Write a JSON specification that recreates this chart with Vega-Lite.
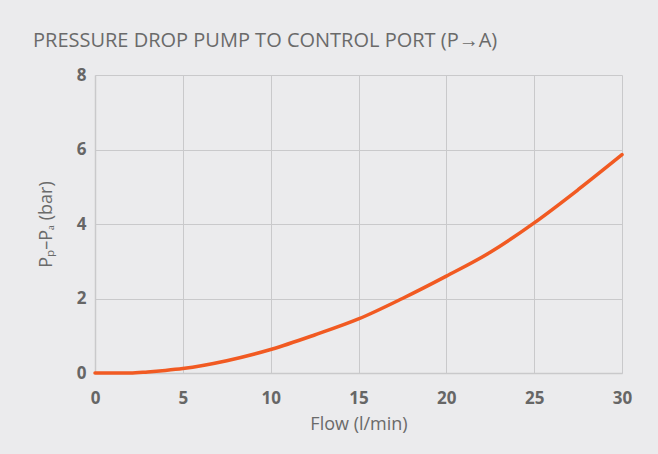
{
  "$schema": "https://vega.github.io/schema/vega-lite/v6.json",
  "width": 527,
  "height": 298,
  "autosize": {"type": "none"},
  "padding": {"left": 95, "top": 75, "right": 36, "bottom": 81},
  "background": "#ebebed",
  "config": {
    "view": {"stroke": null},
    "font": "Open Sans"
  },
  "title": {
    "text": "PRESSURE DROP PUMP TO CONTROL PORT (P→A)",
    "anchor": "start",
    "frame": "group",
    "dx": -62,
    "offset": 15,
    "font": "Open Sans",
    "fontSize": 20,
    "fontWeight": "normal",
    "color": "#6a6a6a"
  },
  "data": {
    "values": [
      {"flow": 0, "dp": 0.0},
      {"flow": 1, "dp": 0.0},
      {"flow": 2, "dp": 0.0},
      {"flow": 3, "dp": 0.03},
      {"flow": 4, "dp": 0.07},
      {"flow": 5, "dp": 0.12},
      {"flow": 7.5, "dp": 0.33},
      {"flow": 10, "dp": 0.63},
      {"flow": 12.5, "dp": 1.02},
      {"flow": 15, "dp": 1.45},
      {"flow": 17.5, "dp": 2.0},
      {"flow": 20, "dp": 2.6},
      {"flow": 22.5, "dp": 3.24},
      {"flow": 25, "dp": 4.03},
      {"flow": 27.5, "dp": 4.92},
      {"flow": 30, "dp": 5.86}
    ]
  },
  "mark": {"type": "line", "color": "#f15a22", "strokeWidth": 3.5, "interpolate": "monotone", "strokeCap": "round"},
  "encoding": {
    "x": {
      "field": "flow",
      "type": "quantitative",
      "scale": {"domain": [0, 30], "nice": false},
      "axis": {
        "values": [0, 5, 10, 15, 20, 25, 30],
        "title": "Flow (l/min)",
        "titleFont": "Open Sans",
        "titleFontSize": 18,
        "titleFontWeight": "normal",
        "titleColor": "#6a6a6a",
        "titlePadding": 9,
        "labelFont": "Open Sans",
        "labelFontSize": 17,
        "labelFontWeight": "bold",
        "labelColor": "#666666",
        "labelPadding": 17,
        "labelFlush": false,
        "ticks": false,
        "grid": true,
        "gridColor": "#c9c9cb",
        "gridWidth": 1,
        "domainColor": "#c9c9cb",
        "domainWidth": 1.5
      }
    },
    "y": {
      "field": "dp",
      "type": "quantitative",
      "scale": {"domain": [0, 8], "nice": false},
      "axis": {
        "values": [0, 2, 4, 6, 8],
        "title": "Pₚ–Pₐ (bar)",
        "titleFont": "Open Sans",
        "titleFontSize": 18,
        "titleFontWeight": "normal",
        "titleColor": "#6a6a6a",
        "titlePadding": 21,
        "labelFont": "Open Sans",
        "labelFontSize": 17,
        "labelFontWeight": "bold",
        "labelColor": "#666666",
        "labelPadding": 9,
        "labelFlush": false,
        "ticks": false,
        "grid": true,
        "gridColor": "#c9c9cb",
        "gridWidth": 1,
        "domainColor": "#c9c9cb",
        "domainWidth": 1.5
      }
    }
  }
}
